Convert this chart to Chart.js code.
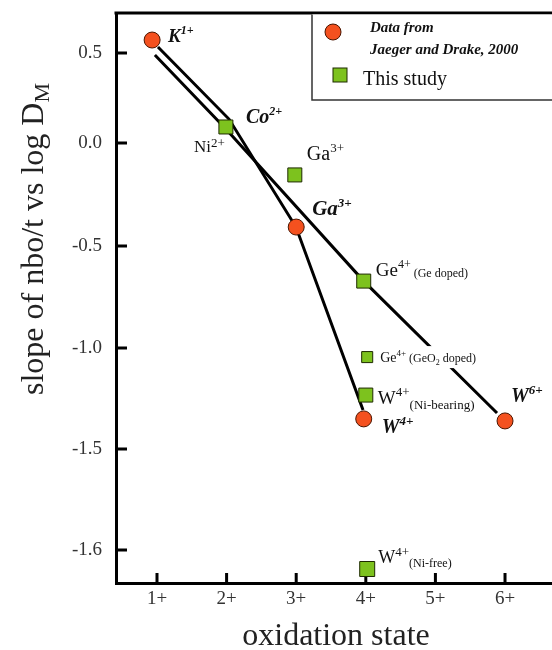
<!DOCTYPE html>
<html><head><meta charset="utf-8">
<script src="https://cdn.jsdelivr.net/npm/chart.js@4.4.0/dist/chart.umd.min.js"></script>
<style>html,body{margin:0;padding:0;background:#fff}canvas{display:block}</style>
</head><body>
<canvas id="c" width="552" height="650"></canvas>
<script>
// ---- axis ticks ----
const xTickValues = [1, 2, 3, 4, 5, 6];
const xTickLabels = ['1+', '2+', '3+', '4+', '5+', '6+'];
const yTickValues = [0.5, 0.0, -0.5, -1.0, -1.5, -1.6];
const yTickLabels = ['0.5', '0.0', '-0.5', '-1.0', '-1.5', '-1.6'];

// ---- Jaeger and Drake, 2000 ----
const jdIons  = ['K1+', 'Ga3+', 'W4+', 'W6+'];
const jdOx    = [0.93, 3.0, 3.97, 6.0];
const jdSlope = [0.572, -0.408, -1.351, -1.361];

// ---- This study ----
const studyIons  = ['Ni2+', 'Ga3+', 'Ge4+ (Ge doped)', 'Ge4+ (GeO2 doped)', 'W4+ (Ni-bearing)', 'W4+ (Ni-free)'];
const studyOx    = [1.99, 2.98, 3.97, 4.02, 4.0, 4.02];
const studySlope = [0.089, -0.155, -0.672, -1.045, -1.233, -1.619];

// ---- trend lines ----
const trendAOx    = [0.97, 1.99, 3.97, 5.885];
const trendASlope = [0.489, 0.078, -0.672, -1.322];
const trendBOx    = [1.014, 2.034, 2.997, 3.96];
const trendBSlope = [0.533, 0.133, -0.408, -1.307];

// ---- broken y axis (piecewise) ----
const yKnotValues    = [-1.633, -1.6, -1.5, -1.0, -0.5, 0.0, 0.5, 0.722];
const yKnotFractions = [0, 33/570, 134/570, 235/570, 337/570, 440/570, 530/570, 1];

class PiecewiseScale extends Chart.LinearScale {
  _toDec(v) {
    const V = yKnotValues, F = yKnotFractions;
    let i = 0;
    while (i < V.length - 2 && v > V[i + 1]) i++;
    return F[i] + (v - V[i]) / (V[i + 1] - V[i]) * (F[i + 1] - F[i]);
  }
  getPixelForValue(v) {
    if (v === null || v === undefined || isNaN(v)) return NaN;
    return this.getPixelForDecimal(this._toDec(v));
  }
  getValueForPixel(p) {
    const d = this.getDecimalForPixel(p);
    const V = yKnotValues, F = yKnotFractions;
    let i = 0;
    while (i < F.length - 2 && d > F[i + 1]) i++;
    return V[i] + (d - F[i]) / (F[i + 1] - F[i]) * (V[i + 1] - V[i]);
  }
}
PiecewiseScale.id = 'piecewise';
PiecewiseScale.defaults = Chart.LinearScale.defaults;
Chart.register(PiecewiseScale);

const SERIF = "'Liberation Serif', 'Times New Roman', serif";
const toPts = (xs, ys) => xs.map((x, i) => ({x: x, y: ys[i]}));

// label specs: anchor dataset / index, pixel offset, rich-text parts [text, style, size, shift]
const labelSpecs = [
  {set: 'jd', i: 0, dx: 16, dy: 2, parts: [['K', 'bi', 19, 0], ['1+', 'bi', 12, -8]]},
  {set: 'st', i: 0, dx: 20, dy: -4, parts: [['Co', 'bi', 20, 0], ['2+', 'bi', 12, -8]]},
  {set: 'st', i: 0, dx: -32, dy: 25, parts: [['Ni', 'n', 17, 0], ['2+', 'n', 13, -5]]},
  {set: 'st', i: 1, dx: 12, dy: -15, parts: [['Ga', 'n', 20, 0], ['3+', 'n', 13, -8]]},
  {set: 'jd', i: 1, dx: 16, dy: -12, parts: [['Ga', 'bi', 21, 0], ['3+', 'bi', 13, -8]]},
  {set: 'st', i: 2, dx: 12, dy: -5, parts: [['Ge', 'n', 19, 0], ['4+', 'n', 12, -8], [' (Ge doped)', 'n', 12, 1]]},
  {set: 'st', i: 3, dx: 13, dy: 5, bg: true, parts: [['Ge', 'n', 14, 0], ['4+', 'n', 9, -6], [' (GeO', 'n', 12, 0], ['2', 'n', 8, 3], [' doped)', 'n', 12, 0]]},
  {set: 'st', i: 4, dx: 12, dy: 9, parts: [['W', 'n', 19, 0], ['4+', 'n', 13, -8], ['(Ni-bearing)', 'n', 13, 5]]},
  {set: 'jd', i: 2, dx: 18, dy: 14, parts: [['W', 'bi', 20, 0], ['4+', 'bi', 13, -8]]},
  {set: 'jd', i: 3, dx: 6, dy: -19, parts: [['W', 'bi', 20, 0], ['6+', 'bi', 13, -8]]},
  {set: 'st', i: 5, dx: 11, dy: -6, parts: [['W', 'n', 18, 0], ['4+', 'n', 13, -7], ['(Ni-free)', 'n', 12, 4]]}
];

function fontFor(style, size) {
  const s = style === 'bi' ? 'italic bold ' : style === 'i' ? 'italic ' : '';
  return s + size + 'px ' + SERIF;
}
function drawRich(ctx, x, y, parts, bg) {
  let w = 0;
  parts.forEach(p => { ctx.font = fontFor(p[1], p[2]); w += ctx.measureText(p[0]).width; });
  if (bg) { ctx.fillStyle = '#fff'; ctx.fillRect(x - 3, y - 16, w + 6, 22); }
  ctx.fillStyle = '#111';
  ctx.textAlign = 'left';
  ctx.textBaseline = 'alphabetic';
  let cx = x;
  parts.forEach(p => {
    ctx.font = fontFor(p[1], p[2]);
    ctx.fillText(p[0], cx, y + p[3]);
    cx += ctx.measureText(p[0]).width;
  });
}

const decorPlugin = {
  id: 'decor',
  beforeDatasetsDraw(chart) {
    const ctx = chart.ctx, a = chart.chartArea, xs = chart.scales.x, ys = chart.scales.y;
    ctx.save();
    ctx.strokeStyle = '#000';
    ctx.lineWidth = 3;
    ctx.beginPath();
    ys.ticks.forEach(t => { const p = ys.getPixelForValue(t.value); ctx.moveTo(a.left, p); ctx.lineTo(a.left + 11, p); });
    xs.ticks.forEach(t => { const p = xs.getPixelForValue(t.value); ctx.moveTo(p, a.bottom); ctx.lineTo(p, a.bottom - 10); });
    ctx.stroke();
    // top frame line
    ctx.beginPath();
    ctx.moveTo(a.left - 1.5, a.top); ctx.lineTo(a.right, a.top);
    ctx.stroke();
    ctx.restore();
  },
  afterDatasetsDraw(chart) {
    const ctx = chart.ctx, xs = chart.scales.x, ys = chart.scales.y;
    ctx.save();
    labelSpecs.forEach(l => {
      const ox = l.set === 'jd' ? jdOx : studyOx;
      const sy = l.set === 'jd' ? jdSlope : studySlope;
      const px = xs.getPixelForValue(ox[l.i]);
      const py = ys.getPixelForValue(sy[l.i]);
      drawRich(ctx, px + l.dx, py + l.dy, l.parts, l.bg);
    });
    ctx.restore();
  },
  afterDraw(chart) {
    const ctx = chart.ctx, a = chart.chartArea;
    ctx.save();
    // legend box
    ctx.fillStyle = '#fff';
    ctx.fillRect(312, a.top + 1.5, a.right - 312, 100 - a.top - 1.5);
    ctx.strokeStyle = '#333';
    ctx.lineWidth = 1.5;
    ctx.beginPath();
    ctx.moveTo(312, a.top + 1.5); ctx.lineTo(312, 100); ctx.lineTo(a.right, 100);
    ctx.stroke();
    // circle marker
    ctx.beginPath(); ctx.arc(333, 32, 8, 0, Math.PI * 2);
    ctx.fillStyle = '#f4511f'; ctx.fill();
    ctx.lineWidth = 1; ctx.strokeStyle = '#4a1500'; ctx.stroke();
    // square marker
    ctx.fillStyle = '#7dc21e'; ctx.fillRect(333, 68, 14, 14);
    ctx.strokeStyle = '#1e2a00'; ctx.strokeRect(333, 68, 14, 14);
    ctx.fillStyle = '#111'; ctx.textAlign = 'left'; ctx.textBaseline = 'alphabetic';
    ctx.font = 'italic bold 15px ' + SERIF;
    ctx.fillText('Data from', 370, 32);
    ctx.fillText('Jaeger and Drake, 2000', 370, 54);
    ctx.font = '20px ' + SERIF;
    ctx.fillText('This study', 363, 85);
    // axis titles
    ctx.fillStyle = '#222';
    ctx.font = '32px ' + SERIF;
    ctx.textAlign = 'center';
    ctx.fillText('oxidation state', 336, 645);
    ctx.translate(43, 395);
    ctx.rotate(-Math.PI / 2);
    ctx.textAlign = 'left';
    ctx.font = '32px ' + SERIF;
    const t = 'slope of nbo/t vs log D';
    ctx.fillText(t, 0, 0);
    const w = ctx.measureText(t).width;
    ctx.font = '22px ' + SERIF;
    ctx.fillText('M', w, 6);
    ctx.restore();
  }
};

new Chart(document.getElementById('c'), {
  type: 'scatter',
  data: {
    datasets: [
      {label: 'Data from Jaeger and Drake, 2000', data: toPts(jdOx, jdSlope), order: 0,
       pointStyle: 'circle', pointRadius: 8, pointBackgroundColor: '#f4511f',
       pointBorderColor: '#4a1500', pointBorderWidth: 1},
      {label: 'This study', data: toPts(studyOx, studySlope), order: 1,
       pointStyle: 'rect', pointRadius: [9.9, 9.9, 9.9, 7.8, 9.9, 10.6], pointBackgroundColor: '#7dc21e',
       pointBorderColor: '#1e2a00', pointBorderWidth: 1},
      {label: 'trend A', data: toPts(trendAOx, trendASlope), order: 2, showLine: true,
       pointRadius: 0, borderColor: '#000', borderWidth: 3, tension: 0},
      {label: 'trend B', data: toPts(trendBOx, trendBSlope), order: 3, showLine: true,
       pointRadius: 0, borderColor: '#000', borderWidth: 3, tension: 0}
    ]
  },
  options: {
    responsive: false,
    animation: false,
    layout: {padding: {top: 13, left: 0, right: 0, bottom: 0}, autoPadding: false},
    plugins: {legend: {display: false}, tooltip: {enabled: false}},
    scales: {
      x: {
        type: 'linear', position: 'bottom', min: 0.411, max: 6.675,
        afterFit: s => { s.height = 67; s.paddingLeft = 0; s.paddingRight = 0; },
        afterBuildTicks: s => { s.ticks = xTickValues.map(v => ({value: v})); },
        grid: {display: false, drawTicks: false},
        border: {display: true, color: '#000', width: 3},
        ticks: {padding: 5, color: '#333', font: {family: SERIF, size: 19},
                callback: (v, i) => xTickLabels[i]}
      },
      y: {
        type: 'piecewise', position: 'left', min: -1.633, max: 0.722,
        afterFit: s => { s.width = 116; s.paddingTop = 0; s.paddingBottom = 0; },
        afterBuildTicks: s => { s.ticks = yTickValues.map(v => ({value: v})); },
        grid: {display: false, drawTicks: false},
        border: {display: true, color: '#000', width: 3},
        ticks: {padding: 14, color: '#333', font: {family: SERIF, size: 19},
                callback: (v, i) => yTickLabels[i]}
      }
    }
  },
  plugins: [decorPlugin]
});
</script>
</body></html>
